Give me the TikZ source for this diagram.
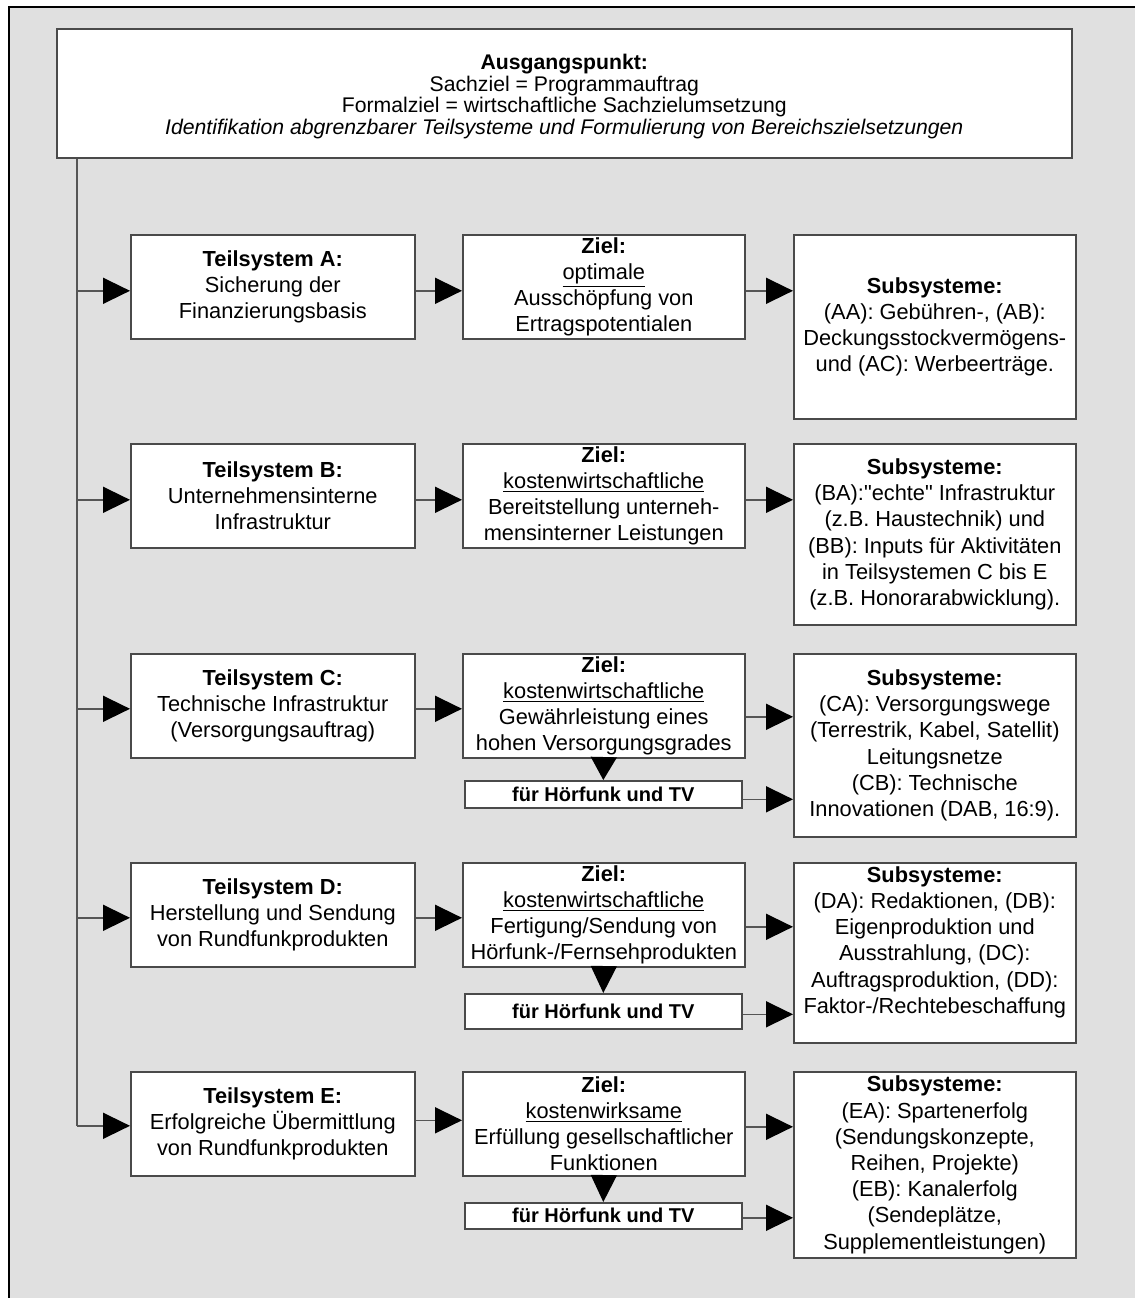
\documentclass[tikz,border=0pt]{standalone}
\usepackage{fontspec}
\setmainfont{Liberation Sans}
\usetikzlibrary{arrows.meta}
\definecolor{bgc}{HTML}{E0E0E0}
\definecolor{boxc}{HTML}{4A4A4A}
\definecolor{linec}{HTML}{555555}
\newcommand{\boxfont}{\fontsize{10.9}{13.1}\selectfont}
\newcommand{\headfont}{\fontsize{10.6}{10.75}\selectfont}
\newcommand{\tagfont}{\fontsize{10}{12}\selectfont\bfseries}
\tikzset{
  box/.style={draw=boxc, fill=white, line width=0.8pt, align=center,
    inner sep=0pt, anchor=north west, font=\boxfont},
  teil/.style={box, minimum width=142pt, minimum height=52pt},
  ziel/.style={box, minimum width=141pt, minimum height=52pt},
  tag/.style={box, minimum width=138.5pt, font=\tagfont},
  sub/.style={box, minimum width=141pt},
  conn/.style={draw=linec, line width=0.75pt},
  arr/.style={conn, -{Triangle[length=13.5pt,width=13pt,color=black]}},
  darr/.style={conn, -{Triangle[length=#1,width=13pt,color=black]}},
}
\begin{document}
\begin{tikzpicture}[x=0.5pt,y=-0.5pt]
\useasboundingbox (0,0) rectangle (1135,1298);
% page background with frame on left and top
\fill[white] (0,0) rectangle (1135,1298);
\fill[bgc] (9,7) rectangle (1135,1298);
\draw[black, line width=1pt] (9,1298) -- (9,7) -- (1135,7);

% starting point
\node[box, minimum width=507.5pt, minimum height=64.5pt, font=\headfont] (top) at (56,28)
  {\rule{0pt}{10.7pt}\textbf{Ausgangspunkt:}\\Sachziel = Programmauftrag\\Formalziel = wirtschaftliche Sachzielumsetzung\\
   \textit{Identifikation abgrenzbarer Teilsysteme und Formulierung von Bereichszielsetzungen}};

% row A
\node[teil] (tA) at (130,234) {\textbf{Teilsystem A:}\\Sicherung der\\Finanzierungsbasis};
\node[ziel] (zA) at (462,234) {\textbf{Ziel:}\\\underline{optimale}\\Ausschöpfung von\\Ertragspotentialen};
\node[sub, minimum height=92pt] (sA) at (793,234)
  {\textbf{Subsysteme:}\\(AA): Gebühren-, (AB):\\Deckungsstockvermögens-\\und (AC): Werbeerträge.};

% row B
\node[teil] (tB) at (130,443) {\textbf{Teilsystem B:}\\Unternehmensinterne\\Infrastruktur};
\node[ziel] (zB) at (462,443) {\textbf{Ziel:}\\\underline{kostenwirtschaftliche}\\Bereitstellung unterneh-\\mensinterner Leistungen};
\node[sub, minimum height=90.5pt] (sB) at (793,443)
  {\textbf{Subsysteme:}\\(BA):\textquotedbl echte\textquotedbl{} Infrastruktur\\(z.B. Haustechnik) und\\(BB): Inputs für Aktivitäten\\in Teilsystemen C bis E\\(z.B. Honorarabwicklung).};

% row C
\node[teil] (tC) at (130,653) {\textbf{Teilsystem C:}\\Technische Infrastruktur\\(Versorgungsauftrag)};
\node[ziel] (zC) at (462,653) {\textbf{Ziel:}\\\underline{kostenwirtschaftliche}\\Gewährleistung eines\\hohen Versorgungsgrades};
\node[tag, minimum height=13.5pt] (fC) at (464,780) {für Hörfunk und TV};
\node[sub, minimum height=91.5pt] (sC) at (793,653)
  {\textbf{Subsysteme:}\\(CA): Versorgungswege\\(Terrestrik, Kabel, Satellit)\\Leitungsnetze\\(CB): Technische\\Innovationen (DAB, 16:9).};

% row D
\node[teil] (tD) at (130,862) {\textbf{Teilsystem D:}\\Herstellung und Sendung\\von Rundfunkprodukten};
\node[ziel] (zD) at (462,862) {\textbf{Ziel:}\\\underline{kostenwirtschaftliche}\\Fertigung/Sendung von\\Hörfunk-/Fernsehprodukten};
\node[tag, minimum height=17.5pt] (fD) at (464,993) {für Hörfunk und TV};
\node[sub, minimum height=90pt] (sD) at (793,862)
  {\textbf{Subsysteme:}\\(DA): Redaktionen, (DB):\\Eigenproduktion und\\Ausstrahlung, (DC):\\Auftragsproduktion, (DD):\\Faktor-/Rechtebeschaffung\rule[-13pt]{0pt}{0pt}};

% row E
\node[teil] (tE) at (130,1071) {\textbf{Teilsystem E:}\\Erfolgreiche Übermittlung\\von Rundfunkprodukten};
\node[ziel] (zE) at (462,1071) {\textbf{Ziel:}\\\underline{kostenwirksame}\\Erfüllung gesellschaftlicher\\Funktionen};
\node[tag, minimum height=13pt] (fE) at (464,1202) {für Hörfunk und TV};
\node[sub, minimum height=93pt] (sE) at (793,1071)
  {\textbf{Subsysteme:}\\(EA): Spartenerfolg\\(Sendungskonzepte,\\Reihen, Projekte)\\(EB): Kanalerfolg\\(Sendeplätze,\\Supplementleistungen)};

% trunk line from the starting point
\coordinate (trunk) at (77,0);
\draw[conn] (top.south -| trunk) -- ([yshift=-1pt]tE.west -| trunk);

% trunk to subsystems
\draw[arr] ([yshift=-2pt]tA.west -| trunk) -- ([yshift=-2pt]tA.west);
\draw[arr] ([yshift=-2pt]tB.west -| trunk) -- ([yshift=-2pt]tB.west);
\draw[arr] ([yshift=-1.5pt]tC.west -| trunk) -- ([yshift=-1.5pt]tC.west);
\draw[arr] ([yshift=-1.5pt]tD.west -| trunk) -- ([yshift=-1.5pt]tD.west);
\draw[arr] ([yshift=-1pt]tE.west -| trunk) -- ([yshift=-1pt]tE.west);

% subsystem to goal
\draw[arr] ([yshift=-2pt]tA.east) -- ([yshift=-2pt]tA.east -| zA.west);
\draw[arr] ([yshift=-2pt]tB.east) -- ([yshift=-2pt]tB.east -| zB.west);
\draw[arr] ([yshift=-1.5pt]tC.east) -- ([yshift=-1.5pt]tC.east -| zC.west);
\draw[arr] ([yshift=-1.5pt]tD.east) -- ([yshift=-1.5pt]tD.east -| zD.west);
\draw[arr] ([yshift=1.75pt]tE.east) -- ([yshift=1.75pt]tE.east -| zE.west);

% goal to sub-subsystems
\draw[arr] ([yshift=-2pt]zA.east) -- ([yshift=-2pt]zA.east -| sA.west);
\draw[arr] ([yshift=-2pt]zB.east) -- ([yshift=-2pt]zB.east -| sB.west);
\draw[arr] ([yshift=-5.5pt]zC.east) -- ([yshift=-5.5pt]zC.east -| sC.west);
\draw[arr] ([yshift=-6pt]zD.east) -- ([yshift=-6pt]zD.east -| sD.west);
\draw[arr] ([yshift=-1.5pt]zE.east) -- ([yshift=-1.5pt]zE.east -| sE.west);

% goal to radio/TV tag
\draw[darr=11.5pt] (zC.south) -- (fC.north);
\draw[darr=13.5pt] (zD.south) -- (fD.north);
\draw[darr=13.5pt] (zE.south) -- (fE.north);

% radio/TV tag to sub-subsystems
\draw[arr] ([yshift=-2.5pt]fC.east) -- ([yshift=-2.5pt]fC.east -| sC.west);
\draw[arr] ([yshift=-1.5pt]fD.east) -- ([yshift=-1.5pt]fD.east -| sD.west);
\draw[arr] ([yshift=-1pt]fE.east) -- ([yshift=-1pt]fE.east -| sE.west);
\end{tikzpicture}
\end{document}
